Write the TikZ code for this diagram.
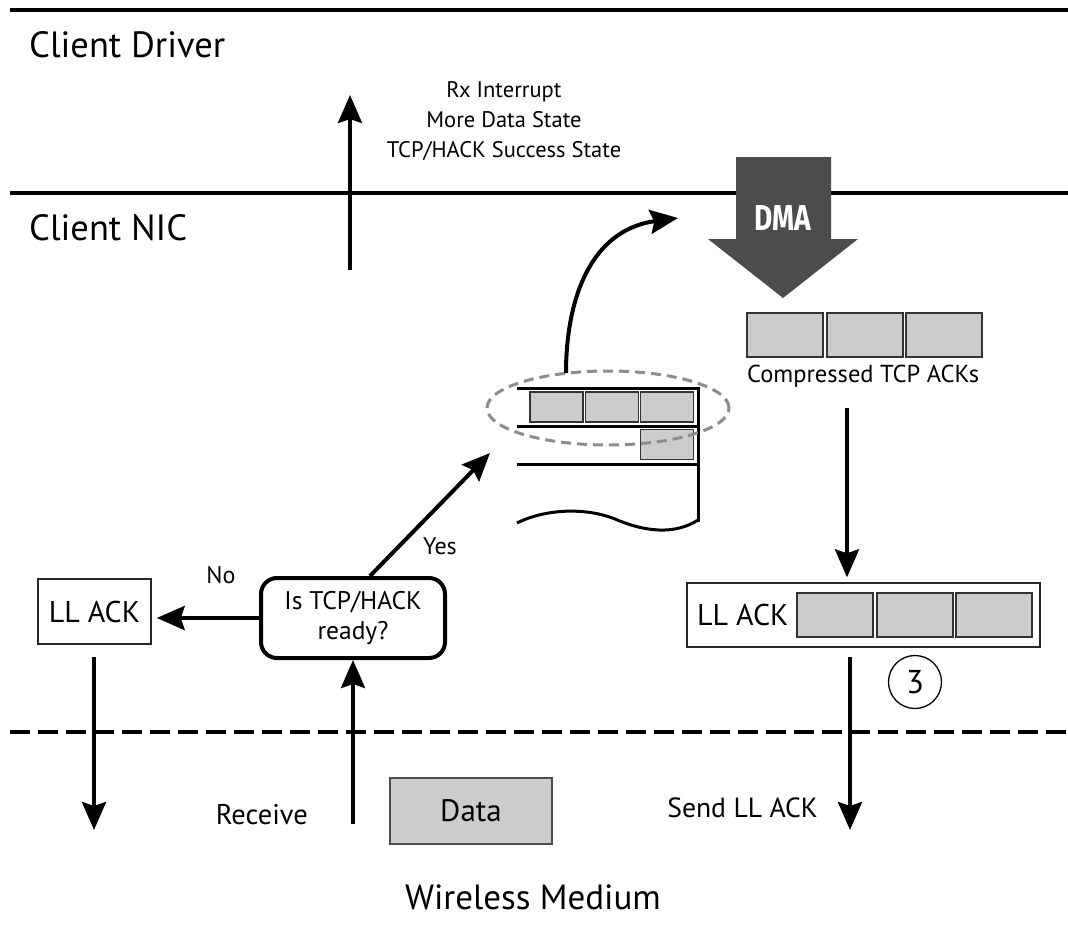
\documentclass[tikz,border=0pt]{standalone}
\usepackage{fontspec}
\usepackage{graphicx}
\setmainfont{PT Sans}
\newfontfamily\dmafont{Fira Sans}
\usetikzlibrary{arrows.meta,shapes.geometric}

\newcommand{\fs}[1]{\fontsize{#1}{#1}\selectfont}

\tikzset{
  x=1pt, y=-1pt,
  layer/.style={line width=4.5pt},
  arr/.style={line width=4pt, -{Stealth[length=28pt,width=24pt,inset=4pt]}},
  ackbox/.style={draw=black!80, fill=black!20, line width=1.4pt, inner sep=0pt,
                 minimum width=76pt, minimum height=44pt},
  qbox/.style={draw=black!80, fill=black!20, line width=1.3pt, inner sep=0pt,
               minimum width=53pt, minimum height=30pt},
  frame/.style={draw=black!85, line width=1.4pt, inner sep=0pt},
  lbl/.style={inner sep=0pt, text=black},
}

\begin{document}
\begin{tikzpicture}
\useasboundingbox (0,0) rectangle (1068,934);

% layer boundaries
\draw[layer] (10,10) -- (1068,10);
\draw[layer] (10,193) -- (1068,193);
\draw[line width=4.5pt, dash pattern=on 20pt off 8pt] (10,732) -- (1068,732);

% layer names
\node[lbl, anchor=base west, font=\fs{36.5}] (drv) at (29,58) {Client Driver};
\node[lbl, anchor=base west, font=\fs{36.5}] (nic) at (29,240) {Client NIC};
\node[lbl, anchor=base, font=\fs{35}] (wm) at (533,909) {Wireless Medium};

% interrupt to the driver
\coordinate (irqS) at (350,270);
\coordinate (irqE) at (350,95);
\draw[arr] (irqS) -- (irqE);
\node[lbl, anchor=base, align=center, font=\fontsize{22.5}{30}\selectfont] (irq) at (504,157)
  {Rx Interrupt\\More Data State\\TCP/HACK Success State};

% DMA arrow
\fill[black!70] (736,157) -- (831,157) -- (831,239) -- (858,239) -- (783,298)
  -- (708,239) -- (736,239) -- cycle;
\node[lbl, text=white, font=\dmafont\bfseries\fs{36}] (dma) at (783,218)
  {\scalebox{0.78}[1]{DMA}};

% compressed TCP ACKs
\node[ackbox] (c1) at (785,335) {};
\node[ackbox] (c2) at (865,335) {};
\node[ackbox] (c3) at (944,335) {};
\node[lbl, anchor=base west, font=\fs{24.5}] (ctxt) at (747,382) {Compressed TCP ACKs};

% LL ACK with piggybacked ACKs
\node[frame, minimum width=353pt, minimum height=64pt] (llbig) at (863.5,615) {};
\node[ackbox] (b1) at (835,615) {};
\node[ackbox] (b2) at (915,615) {};
\node[ackbox] (b3) at (994,615) {};
\node[lbl, anchor=west, font=\fs{30}] (lltxt) at (697,615) {LL ACK};
\coordinate (cdown) at (847,408);
\draw[arr] (cdown) -- ([yshift=5pt]llbig.north -| cdown);

\node[draw, circle, line width=1.3pt, minimum size=53pt, inner sep=0pt, font=\fs{33}] (three) at (915,682) {3};

\coordinate (sendS) at (850,657);
\coordinate (sendE) at (850,830);
\draw[arr] (sendS) -- (sendE);
\node[lbl, anchor=east, font=\fs{27.7}] (send) at (818,808) {Send LL ACK};

% decision
\node[draw, line width=4pt, rounded corners=16pt, minimum width=184pt, minimum height=80pt,
      align=center, font=\fontsize{25.5}{30}\selectfont] (dec) at (353,618)
  {Is TCP/HACK\\ready?};

% plain LL ACK
\node[frame, minimum width=113pt, minimum height=65pt, font=\fs{30}] (llsmall) at (94.5,611.5) {LL ACK};
\draw[arr, shorten >=5pt] (dec.west) -- (dec.west -| llsmall.east);
\node[lbl, font=\fs{24}] (no) at (221,575) {No};

\coordinate (llS) at (94,657);
\coordinate (llE) at (94,830);
\draw[arr] (llS) -- (llE);

% receive path
\coordinate (rcv) at (353,824);
\draw[arr] (rcv) -- (dec.south);
\node[lbl, anchor=east, font=\fs{28.5}] (rcvtxt) at (308,815) {Receive};
\node[draw=black!70, fill=black!20, line width=2.5pt, minimum width=162pt, minimum height=66pt,
      font=\fs{31}] (data) at (471,811) {Data};

% queue of ACKs
\draw[line width=3pt] (517,388) -- (698,388);
\draw[line width=3pt] (517,426) -- (698,426);
\draw[line width=3pt] (517,464) -- (698,464);
\draw[line width=3pt] (698,386.5) -- (698,522);
\draw[line width=3pt] (517,523) .. controls (545,509) and (585,507) .. (615,519)
  .. controls (645,532) and (675,535) .. (698,520);
\node[qbox] (q1) at (556.5,407) {};
\node[qbox] (q2) at (612,407) {};
\node[qbox] (q3) at (667,407) {};
\node[qbox] (q4) at (667,444.5) {};
\node[draw=black!45, line width=3pt, dash pattern=on 10pt off 6pt, ellipse,
      minimum width=242pt, minimum height=74pt, inner sep=0pt] (sel) at (608,408) {};

% yes branch
\coordinate (yesS) at (370,576);
\coordinate (yesE) at (490,453);
\draw[arr] (yesS) -- (yesE);
\node[lbl, font=\fs{24}] (yes) at (440,546) {Yes};

% hand the batch to DMA
\coordinate (selTop) at (566,373);
\coordinate (dmaIn) at (678,218);
\draw[arr] (selTop) .. controls (566,300) and (590,230) .. (dmaIn);
\end{tikzpicture}
\end{document}
